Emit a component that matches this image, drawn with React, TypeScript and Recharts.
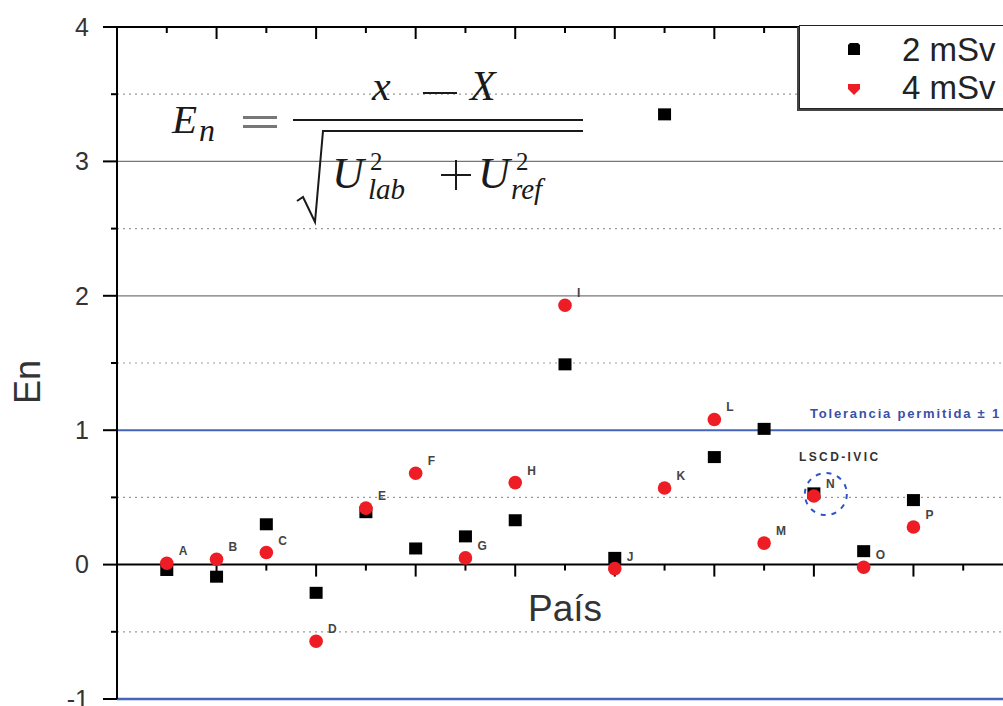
import React from "react";
import {
  ScatterChart,
  Scatter,
  XAxis,
  YAxis,
  ReferenceLine,
  ReferenceDot,
  Legend,
  LabelList,
} from "recharts";

const FONT = "'Liberation Sans', Arial, sans-serif";
const MATH = "'Liberation Serif', 'DejaVu Serif', serif";

// participating labs (anonymised letters) and their position on the x axis
const labLetters = ["A", "B", "C", "D", "E", "F", "G", "H", "I", "J", "K", "L", "M", "N", "O", "P"];
const labPositions = [1, 2, 3, 4, 5, 6, 7, 8, 9, 10, 11, 12, 13, 14, 15, 16];

// En values
const en2mSv = [-0.04, -0.09, 0.3, -0.21, 0.39, 0.12, 0.21, 0.33, 1.49, 0.05, 3.35, 0.8, 1.01, 0.53, 0.1, 0.48];
const en4mSv = [0.01, 0.04, 0.09, -0.57, 0.42, 0.68, 0.05, 0.61, 1.93, -0.03, 0.57, 1.08, 0.16, 0.51, -0.02, 0.28];

const yTicks = [-1, 0, 1, 2, 3, 4];
const yMinorTicks = [-0.5, 0.5, 1.5, 2.5, 3.5];
const ySolidGrid = [2, 3];
const xTicks = [1, 2, 3, 4, 5, 6, 7, 8, 9, 10, 11, 12, 13, 14, 15, 16, 17];

const data2 = labLetters.map((name, i) => ({ x: labPositions[i], y: en2mSv[i], name }));
const data4 = labLetters.map((name, i) => ({ x: labPositions[i], y: en4mSv[i], name }));

// tick lengths in data units (plot is ~49.8 px per x unit, ~134.4 px per y unit)
const tickLen = (t: number) => (t % 2 === 0 ? 12 : 6) / 134.4;
const yMinorLen = 6 / 49.8;

const BLUE = "#4664b9";
const RED = "#ee1c24";

const SquareMark = (props: any) => {
  const { cx, cy } = props;
  return <rect x={cx - 6.5} y={cy - 6} width={13} height={12} fill="#000" />;
};

const DotMark = (props: any) => {
  const { cx, cy } = props;
  return <circle cx={cx} cy={cy} r={6.8} fill={RED} />;
};

const renderPointLabel = (props: any) => {
  const { x, y, width, height, value } = props;
  const cx = Number(x) + (Number(width) || 0) / 2;
  const cy = Number(y) + (Number(height) || 0) / 2;
  return (
    <text x={cx + 12} y={cy - 12} dominantBaseline="central" fontSize={12} fontWeight="bold" fill="#444" fontFamily={FONT}>
      {value}
    </text>
  );
};

const renderEnLabel = (props: any) => {
  const vb = props.viewBox || {};
  const cx = (vb.x ?? 17) + 23;
  const cy = (vb.y ?? 27) + (vb.height ?? 672) / 2 + 19;
  return (
    <text x={cx} y={cy} transform={`rotate(-90, ${cx}, ${cy})`} textAnchor="middle" fontSize={36} fill="#333" fontFamily={FONT}>
      En
    </text>
  );
};

const renderLegend = () => (
  <div
    style={{
      position: "relative",
      width: 260,
      height: 84,
      boxSizing: "border-box",
      border: "1.5px solid #222",
      boxShadow: "-2px 2px 0 #444",
      background: "#fff",
      fontFamily: FONT,
      color: "#222",
    }}
  >
    <svg width={20} height={84} style={{ position: "absolute", left: 44, top: 0 }}>
      <path d="M4,19 L6,17 L14,17 L16,19 L16,29 L4,29 Z" fill="#000" />
      <path d="M4,58 L16,58 L16,63 L10,69 L4,63 Z" fill={RED} />
    </svg>
    <div style={{ position: "absolute", left: 102, top: 6, fontSize: 33, lineHeight: "36px" }}>2 mSv</div>
    <div style={{ position: "absolute", left: 102, top: 44, fontSize: 33, lineHeight: "36px" }}>4 mSv</div>
  </div>
);

const Formula = () => (
  <svg width={1003} height={706} style={{ position: "absolute", left: 0, top: 0, pointerEvents: "none" }}>
    <g fill="#1a1a1a" fontFamily={MATH} fontStyle="italic">
      <text x={172} y={133} fontSize={41}>E</text>
      <text x={199} y={141} fontSize={32}>n</text>
      <text x={372} y={100} fontSize={42}>x</text>
      <text x={470} y={100} fontSize={42}>X</text>
      <text x={332} y={188} fontSize={44}>U</text>
      <text x={370} y={170} fontSize={25} fontStyle="normal">2</text>
      <text x={368} y={199} fontSize={29}>lab</text>
      <text x={478} y={188} fontSize={44}>U</text>
      <text x={516} y={170} fontSize={25} fontStyle="normal">2</text>
      <text x={511} y={199} fontSize={29}>ref</text>
    </g>
    <rect x={243} y={116} width={34} height={3} fill="#777" />
    <rect x={243} y={125} width={34} height={3} fill="#777" />
    <line x1={423} y1={93} x2={457} y2={93} stroke="#1a1a1a" strokeWidth={2} />
    <line x1={441} y1={175} x2={471} y2={175} stroke="#1a1a1a" strokeWidth={2} />
    <line x1={456} y1={160} x2={456} y2={190} stroke="#1a1a1a" strokeWidth={2} />
    <line x1={293} y1={120} x2={583} y2={120} stroke="#1a1a1a" strokeWidth={2} />
    <path d="M297,201 L303,197 L315,222 L323,131 L583,131" fill="none" stroke="#1a1a1a" strokeWidth={2} />
  </svg>
);

export default function App() {
  return (
    <div
      style={{
        position: "fixed",
        left: 0,
        top: 0,
        width: 1003,
        height: 706,
        overflow: "hidden",
        background: "#fff",
      }}
    >
      <ScatterChart width={1040} height={706} margin={{ top: 27, right: 27, bottom: 7, left: 17 }}>
        <XAxis type="number" dataKey="x" domain={[0, 18]} hide />
        <YAxis
          type="number"
          dataKey="y"
          domain={[-1, 4]}
          ticks={yTicks}
          interval={0}
          width={100}
          tickSize={14}
          tickMargin={14}
          axisLine={{ stroke: "#000", strokeWidth: 2 }}
          tickLine={{ stroke: "#000", strokeWidth: 2 }}
          tick={{ fontSize: 25, fill: "#333", fontFamily: FONT }}
          label={{ value: "En", content: renderEnLabel }}
        />

        {yMinorTicks.map((t) => (
          <ReferenceLine key={`g${t}`} y={t} stroke="#9a9a9a" strokeWidth={1.2} strokeDasharray="2 4" />
        ))}
        {yMinorTicks.map((t) => (
          <ReferenceLine
            key={`mt${t}`}
            segment={[{ x: 0, y: t }, { x: -yMinorLen, y: t }]}
            ifOverflow="visible"
            stroke="#000"
            strokeWidth={2}
          />
        ))}
        {ySolidGrid.map((t) => (
          <ReferenceLine key={`s${t}`} y={t} stroke="#777" strokeWidth={1.2} />
        ))}
        <ReferenceLine
          y={1}
          stroke={BLUE}
          strokeWidth={2}
          label={{
            value: "Tolerancia permitida ± 1",
            position: "insideBottomRight",
            offset: 12,
            fontSize: 13,
            fontWeight: "bold",
            letterSpacing: 1.8,
            fill: "#3a4fa8",
            fontFamily: FONT,
          }}
        />
        <ReferenceLine y={-1} stroke={BLUE} strokeWidth={2.5} />
        <ReferenceLine y={4} stroke="#000" strokeWidth={2} />
        <ReferenceLine
          y={0}
          stroke="#000"
          strokeWidth={2}
          label={{ value: "País", position: "bottom", offset: 30, fontSize: 37, fill: "#333", fontFamily: FONT }}
        />
        {xTicks.map((t) => (
          <ReferenceLine key={`bt${t}`} segment={[{ x: t, y: 0 }, { x: t, y: -tickLen(t) }]} stroke="#000" strokeWidth={2} />
        ))}
        {xTicks.map((t) => (
          <ReferenceLine key={`tt${t}`} segment={[{ x: t, y: 4 }, { x: t, y: 4 - tickLen(t) }]} stroke="#000" strokeWidth={2} />
        ))}

        <Scatter name="2 mSv" data={data2} fill="#000" shape={SquareMark} isAnimationActive={false} />
        <Scatter name="4 mSv" data={data4} fill={RED} shape={DotMark} isAnimationActive={false}>
          <LabelList dataKey="name" content={renderPointLabel} />
        </Scatter>

        <ReferenceDot x={14.24} y={0.525} r={21} fill="none" stroke="#2f55c8" strokeWidth={2} strokeDasharray="5 6" />
        <ReferenceDot
          x={14.52}
          y={0.8}
          r={0}
          fill="none"
          stroke="none"
          label={{
            value: "LSCD-IVIC",
            position: "center",
            fontSize: 12,
            fontWeight: "bold",
            letterSpacing: 2.4,
            fill: "#333",
            fontFamily: FONT,
          }}
        />

        <Legend
          layout="horizontal"
          align="center"
          verticalAlign="middle"
          content={renderLegend}
          wrapperStyle={{ left: 799, top: 25, width: 260, height: 84 }}
        />
      </ScatterChart>
      <Formula />
    </div>
  );
}
